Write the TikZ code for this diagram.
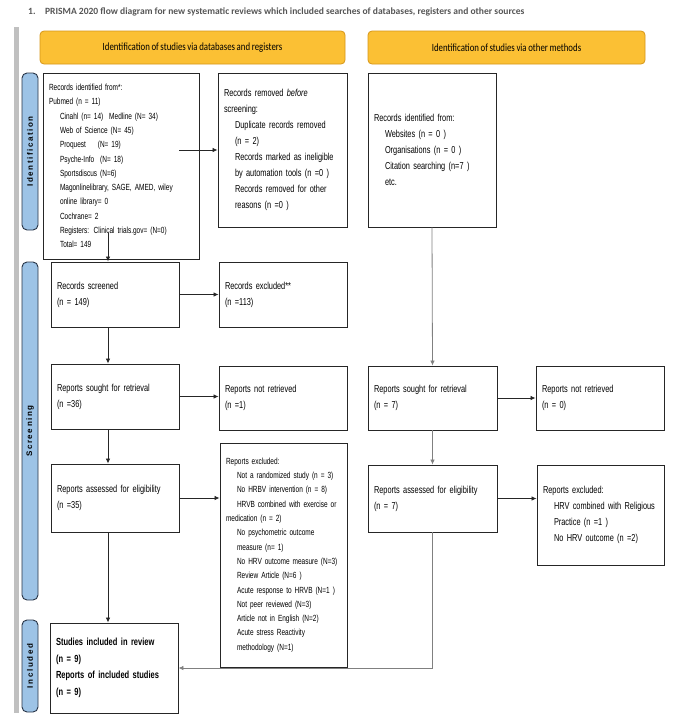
\documentclass[tikz,border=0pt]{standalone}
\usepackage{fontspec}
\setmainfont{Liberation Sans}
\newfontfamily\boxfont{Liberation Sans}[FakeStretch=0.73, WordSpace=0.6]
\newfontfamily\headfont{Carlito}[FakeStretch=0.8, WordSpace=0.8]
\newfontfamily\titlefont{Carlito}
\newfontfamily\sidefont{Liberation Sans}[LetterSpace=20]
\usepackage{xcolor}
\usepackage{tikz}
\usetikzlibrary{calc, arrows.meta}

\definecolor{hdrfill}{RGB}{251,192,52}
\definecolor{hdrdraw}{RGB}{214,150,24}
\definecolor{sidefill}{RGB}{157,195,230}
\definecolor{sidedraw}{RGB}{40,52,70}
\definecolor{barfill}{RGB}{192,192,192}
\definecolor{titlegray}{RGB}{85,85,85}

\newcommand{\indt}{\hspace*{11pt}}

\begin{document}
\begin{tikzpicture}[x=1pt,y=-1pt,
	box/.style={draw=black!85, line width=0.9pt, align=left, inner xsep=6pt, inner ysep=0pt, execute at begin node={\hyphenpenalty=10000}, font=\boxfont\fontsize{10.1}{16}\selectfont},
	smallbox/.style={box, font=\boxfont\fontsize{8.9}{14.3}\selectfont},
	header/.style={draw=hdrdraw, fill=hdrfill, line width=0.8pt, rounded corners=4pt, minimum height=33pt, font=\headfont\fontsize{11}{13}\selectfont},
	phase/.style={draw=sidedraw, fill=sidefill, line width=0.9pt, rounded corners=5pt, rotate=90, minimum height=16pt, inner sep=0pt, font=\sidefont\bfseries\fontsize{8}{10}\selectfont},
	arr/.style={-{Latex[length=5pt,width=4.5pt]}, line width=0.8pt, black!85},
	grayarr/.style={arr, gray}]
	
	% PAGE
	\useasboundingbox (0,0) rectangle (680,723);
	
	% TITLE
	\node[anchor=west, inner sep=0pt, text=titlegray, font=\titlefont\bfseries\fontsize{9.55}{12}\selectfont] (title) at (28,12) {1.\quad PRISMA 2020 flow diagram for new systematic reviews which included searches of databases, registers and other sources};
	
	% LEFT GRAY BAR
	\fill[barfill] (14,27) rectangle (19,713);
	
	% HEADERS
	\node[header, minimum width=305pt] (hdrdb) at (192.5,47.5) {Identification of studies via databases and registers};
	\node[header, minimum width=277pt] (hdrother) at (506.5,47.5) {Identification of studies via other methods};
	
	% PHASES
	\node[phase, minimum width=157pt] (phident) at (30,151.5) {Identification};
	\node[phase, minimum width=338pt] (phscreen) at (30,431) {Screening};
	\node[phase, minimum width=92pt] (phincl) at (30,666) {Included};
	
	% IDENTIFICATION
	\node[smallbox, text width=144pt, minimum height=186pt] (ident) at (121,166) {Records identified from*:\\Pubmed (n = 11)\\\indt Cinahl (n= 14)\ \ Medline (N= 34)\\\indt Web of Science (N= 45)\\\indt Proquest \ \ \ (N= 19)\\\indt Psyche-Info \ (N= 18)\\\indt Sportsdiscus (N=6)\\\indt Magonlinelibrary, SAGE, AMED, wiley\\\indt online library= 0\\\indt Cochrane= 2\\\indt Registers: Clinical trials.gov= (N=0)\\\indt Total= 149};
	\node[box, text width=117pt, minimum height=154pt] (removed) at (282.5,150) {Records removed \textit{before}\\screening:\\\indt Duplicate records removed\\\indt (n = 2)\\\indt Records marked as ineligible\\\indt by automation tools (n =0 )\\\indt Records removed for other\\\indt reasons (n =0 )};
	\node[box, text width=116pt, minimum height=154pt] (other) at (432,150) {Records identified from:\\\indt Websites (n = 0 )\\\indt Organisations (n = 0 )\\\indt Citation searching (n=7 )\\\indt etc.};
	
	% SCREENING - DATABASES
	\node[box, text width=116pt, minimum height=65pt] (screened) at (115,294.5) {Records screened\\(n = 149)};
	\node[box, text width=116pt, minimum height=65pt] (excluded) at (283,294.5) {Records excluded**\\(n =113)};
	\node[box, text width=116pt, minimum height=65pt] (sought) at (115,396.5) {Reports sought for retrieval\\(n =36)};
	\node[box, text width=116pt, minimum height=64pt] (notret) at (283,398) {Reports not retrieved\\(n =1)};
	\node[box, text width=116pt, minimum height=68pt] (assessed) at (115,498) {Reports assessed for eligibility\\(n =35)};
	\node[smallbox, text width=115pt, minimum height=224pt] (repexcl) at (283.5,555) {Reports excluded:\\\indt Not a randomized study (n = 3)\\\indt No HRBV intervention (n = 8)\\\indt HRVB combined with exercise or\\medication (n = 2)\\\indt No psychometric outcome\\\indt measure (n= 1)\\\indt No HRV outcome measure (N=3)\\\indt Review Article (N=6 )\\\indt Acute response to HRVB (N=1 )\\\indt Not peer reviewed (N=3)\\\indt Article not in English (N=2)\\\indt Acute stress Reactivity\\\indt methodology (N=1)};
	
	% SCREENING - OTHER METHODS
	\node[box, text width=117pt, minimum height=64pt] (sought2) at (432.5,398) {Reports sought for retrieval\\(n = 7)};
	\node[box, text width=116pt, minimum height=64pt] (notret2) at (600,398) {Reports not retrieved\\(n = 0)};
	\node[box, text width=117pt, minimum height=67pt] (assessed2) at (432.5,498.5) {Reports assessed for eligibility\\(n = 7)};
	\node[box, text width=115pt, minimum height=100pt] (repexcl2) at (600.5,515) {Reports excluded:\\\indt HRV combined with Religious\\\indt Practice (n =1 )\\\indt No HRV outcome (n =2)};
	
	% INCLUDED
	\node[box, text width=116pt, minimum height=90pt, font=\boxfont\bfseries\fontsize{10.3}{16.5}\selectfont] (included) at (114,668) {Studies included in review\\(n = 9)\\Reports of included studies\\(n = 9)};
	
	% ARROWS
	\draw[arr] ([xshift=-20pt]ident.east |- removed.west) -- (removed.west);
	\draw[arr] ([xshift=-7pt,yshift=26pt]ident.south -| screened.north) -- ([xshift=-7pt]screened.north);
	\draw[arr] (screened.east) -- (screened.east -| excluded.west);
	\draw[arr] ([xshift=-7pt]screened.south) -- ([xshift=-7pt]sought.north);
	\draw[arr] (sought.east) -- (sought.east -| notret.west);
	\draw[arr] ([xshift=-7pt]sought.south) -- ([xshift=-7pt]assessed.north);
	\draw[arr] (assessed.east) -- (assessed.east -| repexcl.west);
	\draw[arr] ([xshift=-7pt]assessed.south) -- ([xshift=-6pt]included.north);
	\draw[grayarr] (other.south) -- (sought2.north);
	\draw[arr] (sought2.east) -- (sought2.east -| notret2.west);
	\draw[grayarr] (sought2.south) -- (assessed2.north);
	\draw[arr] (assessed2.east) -- (assessed2.east -| repexcl2.west);
	\draw[grayarr] (assessed2.south) |- (included.east);
\end{tikzpicture}
\end{document}
